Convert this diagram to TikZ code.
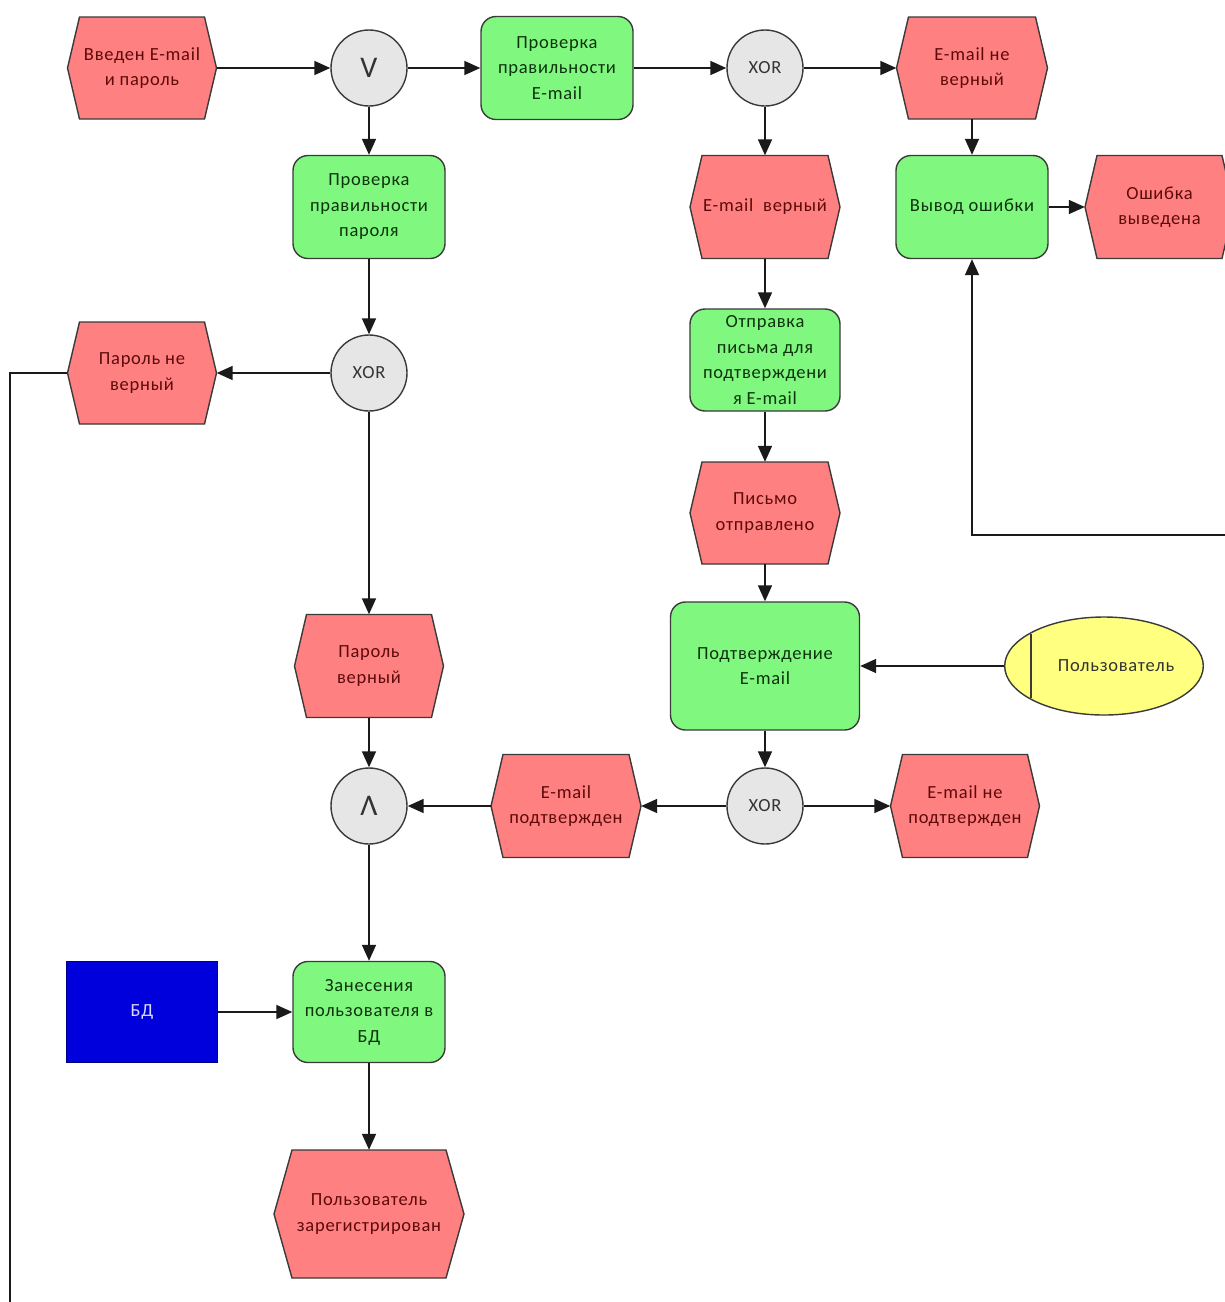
\documentclass[tikz,border=0pt]{standalone}
\usepackage{fontspec}
\setmainfont{Carlito}[LetterSpace=4]
\usetikzlibrary{arrows.meta,shapes.geometric}

\definecolor{evfill}{HTML}{FF8080}
\definecolor{evtextc}{HTML}{5E0A0A}
\definecolor{fnfill}{HTML}{80F880}
\definecolor{fntextc}{HTML}{0C330C}
\definecolor{gatefill}{HTML}{E6E6E6}
\definecolor{actfill}{HTML}{FFFF80}
\definecolor{dbfill}{HTML}{0000DD}
\definecolor{outline}{HTML}{3A3A3A}
\definecolor{wire}{HTML}{1A1A1A}

\tikzset{
  labelfont/.style={font=\fontsize{18.5}{25.5}\selectfont},
  evshape/.style={fill=evfill, draw=outline, line width=1.4pt, line join=miter},
  evtext/.style={rectangle, labelfont, align=center, text=evtextc, inner sep=0pt},
  fn/.style={rectangle, rounded corners=15pt, draw=outline, line width=1.4pt,
    fill=fnfill, minimum width=152pt, minimum height=103pt, align=center,
    text=fntextc, labelfont, inner sep=0pt},
  gate/.style={circle, draw=outline, line width=1.4pt, fill=gatefill,
    minimum size=76pt, inner sep=0pt, text=black!80},
  gatesym/.style={gate, font=\fontsize{30}{32}\selectfont},
  gatexor/.style={gate, labelfont},
  actor/.style={ellipse, draw=outline, line width=1.4pt, fill=actfill,
    minimum width=192pt, minimum height=98pt, inner sep=0pt, labelfont, text=black!80},
  store/.style={rectangle, draw=dbfill!60!black, line width=1.2pt, fill=dbfill,
    minimum width=151pt, minimum height=101pt, labelfont, text=white!85!blue},
  flow/.style={draw=wire, line width=1.7pt, -{Triangle[length=16pt,width=14pt]}},
  plainflow/.style={draw=wire, line width=1.7pt},
}

% event: name, x, y, width, height, slant inset, text
\newcommand{\eventnode}[7]{%
  \path[evshape] ({#2-#4/2},#3) -- ({#2-#4/2+#6},{#3-#5/2}) -- ({#2+#4/2-#6},{#3-#5/2})
    -- ({#2+#4/2},#3) -- ({#2+#4/2-#6},{#3+#5/2}) -- ({#2-#4/2+#6},{#3+#5/2}) -- cycle;
  \node[evtext, minimum width=#4pt, minimum height=#5pt] (#1) at (#2,#3) {#7};
}

\begin{document}
\begin{tikzpicture}[x=1pt,y=-1pt]
  \useasboundingbox (0,0) rectangle (1225,1302);
  \clip (0,0) rectangle (1225,1302);
  \fill[white] (0,0) rectangle (1225,1302);

  % events
  \eventnode{evInput}{142}{68}{149}{102}{12}{Введен E-mail\\и пароль}
  \eventnode{evMailBad}{972}{68}{151}{102}{12}{E-mail не\\верный}
  \eventnode{evMailOk}{765}{207}{150}{103}{12}{E-mail\ \ верный}
  \eventnode{evErrShown}{1159.5}{207}{149}{103}{12}{Ошибка\\выведена}
  \eventnode{evPwBad}{142}{373}{149}{102}{12}{Пароль не\\верный}
  \eventnode{evSent}{765}{513}{150}{102}{12}{Письмо\\отправлено}
  \eventnode{evPwOk}{369}{666}{149}{103}{12}{Пароль\\верный}
  \eventnode{evConfOk}{566}{806}{150}{103}{12}{E-mail\\подтвержден}
  \eventnode{evConfNo}{965}{806}{149}{103}{12}{E-mail не\\подтвержден}
  \eventnode{evReg}{369}{1214}{190}{128}{18}{Пользователь\\зарегистрирован}

  % functions
  \node[fn] (fnMail) at (557,68) {Проверка\\правильности\\E-mail};
  \node[fn] (fnPw) at (369,207) {Проверка\\правильности\\пароля};
  \node[fn] (fnErr) at (972,207) {Вывод ошибки};
  \node[fn, minimum width=150pt, minimum height=102pt] (fnSend) at (765,360)
    {Отправка\\письма для\\подтверждени\\я E-mail};
  \node[fn, minimum width=189pt, minimum height=128pt] (fnConf) at (765,666)
    {Подтверждение\\E-mail};
  \node[fn, minimum height=101pt] (fnSave) at (369,1012)
    {Занесения\\пользователя в\\БД};

  % connectors (logic gates)
  \node[gatesym] (gOr) at (369,68) {V};
  \node[gatexor] (gMail) at (765,68) {XOR};
  \node[gatexor] (gPw) at (369,373) {XOR};
  \node[gatesym] (gAnd) at (369,806) {Λ};
  \node[gatexor] (gConf) at (765,806) {XOR};

  % actor and data store
  \node[actor] (user) at (1104,666) {\hspace*{24pt}Пользователь};
  \draw[outline, line width=1.4pt] (1031,634) -- (1031,698);
  \node[store] (db) at (142,1012) {БД};

  % free ends of lines running off the sheet
  \coordinate (fromRight) at (1226,535);
  \coordinate (toBottom) at (10,1303);

  % flow
  \draw[flow] (evInput) -- (gOr);
  \draw[flow] (gOr) -- (fnMail);
  \draw[flow] (gOr) -- (fnPw);
  \draw[flow] (fnMail) -- (gMail);
  \draw[flow] (gMail) -- (evMailBad);
  \draw[flow] (gMail) -- (evMailOk);
  \draw[flow] (evMailBad) -- (fnErr);
  \draw[flow] (fnErr) -- (evErrShown);
  \draw[flow] (fromRight) -| (fnErr.south);
  \draw[flow] (fnPw) -- (gPw);
  \draw[flow] (gPw) -- (evPwBad);
  \draw[plainflow] (evPwBad.west) -| (toBottom);
  \draw[flow] (gPw) -- (evPwOk);
  \draw[flow] (evMailOk) -- (fnSend);
  \draw[flow] (fnSend) -- (evSent);
  \draw[flow] (evSent) -- (fnConf);
  \draw[flow] (user) -- (fnConf);
  \draw[flow] (fnConf) -- (gConf);
  \draw[flow] (gConf) -- (evConfOk);
  \draw[flow] (gConf) -- (evConfNo);
  \draw[flow] (evConfOk) -- (gAnd);
  \draw[flow] (evPwOk) -- (gAnd);
  \draw[flow] (gAnd) -- (fnSave);
  \draw[flow] (db) -- (fnSave);
  \draw[flow] (fnSave) -- (evReg);
\end{tikzpicture}
\end{document}
